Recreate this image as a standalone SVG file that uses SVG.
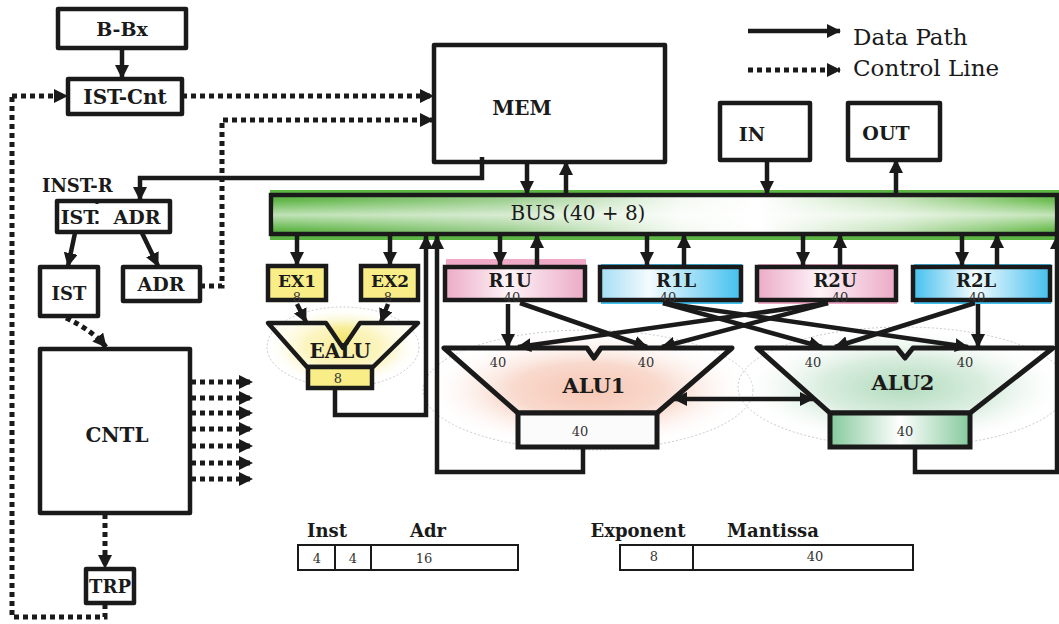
<svg xmlns="http://www.w3.org/2000/svg" width="1059" height="624" viewBox="0 0 1059 624">
<defs>
<style>
.box{fill:#fff;stroke:#1a1a1a;stroke-width:4.5;stroke-linejoin:round}
.thin{fill:#fff;stroke:#1a1a1a;stroke-width:2}
.t{font-family:"DejaVu Serif","Liberation Serif",serif;font-weight:bold;fill:#1a1a1a;text-anchor:middle}
.r{font-family:"DejaVu Serif","Liberation Serif",serif;fill:#1a1a1a}
.s{font-family:"DejaVu Serif","Liberation Serif",serif;fill:#333;font-size:13px;text-anchor:middle}
.d{fill:none;stroke:#1a1a1a;stroke-width:4.5;marker-end:url(#ah)}
.dn{fill:none;stroke:#1a1a1a;stroke-width:4.5}
.c{fill:none;stroke:#1a1a1a;stroke-width:5;stroke-dasharray:5 4;marker-end:url(#ah)}
.cn{fill:none;stroke:#1a1a1a;stroke-width:5;stroke-dasharray:5 4}
.glow{stroke:#bbb;stroke-width:0.8;stroke-dasharray:2 2}
</style>
<marker id="ah" viewBox="0 0 14 14" refX="13" refY="7" markerWidth="14" markerHeight="14" markerUnits="userSpaceOnUse" orient="auto-start-reverse"><path d="M0,0 L14,7 L0,14 z" fill="#1a1a1a"/></marker>
<linearGradient id="busg" x1="0" y1="0" x2="1" y2="0">
<stop offset="0" stop-color="#5db544"/><stop offset="0.3" stop-color="#9fd092"/><stop offset="0.52" stop-color="#f4faf2"/><stop offset="0.62" stop-color="#ffffff"/><stop offset="0.8" stop-color="#c6e4bc"/><stop offset="1" stop-color="#68bb4c"/>
</linearGradient>
<linearGradient id="busv" x1="0" y1="0" x2="0" y2="1">
<stop offset="0" stop-color="#fff" stop-opacity="0"/><stop offset="0.5" stop-color="#fff" stop-opacity="0.6"/><stop offset="1" stop-color="#fff" stop-opacity="0"/>
</linearGradient>
<linearGradient id="pink" x1="0" y1="0" x2="1" y2="0">
<stop offset="0" stop-color="#ecaac6"/><stop offset="0.45" stop-color="#fdf3f7"/><stop offset="1" stop-color="#ecaac6"/>
</linearGradient>
<linearGradient id="blue" x1="0" y1="0" x2="1" y2="0">
<stop offset="0" stop-color="#43c0ee"/><stop offset="0.45" stop-color="#f4fbfe"/><stop offset="1" stop-color="#43c0ee"/>
</linearGradient>
<linearGradient id="blueL" x1="0" y1="0" x2="1" y2="0">
<stop offset="0" stop-color="#a5ddf5"/><stop offset="0.35" stop-color="#f4fbfe"/><stop offset="1" stop-color="#43c0ee"/>
</linearGradient>
<linearGradient id="greenbox" x1="0" y1="0" x2="1" y2="0">
<stop offset="0" stop-color="#85c99c"/><stop offset="0.5" stop-color="#ffffff"/><stop offset="1" stop-color="#85c99c"/>
</linearGradient>
<radialGradient id="salmon" cx="0.5" cy="0.5" r="0.5">
<stop offset="0" stop-color="#f4b49c"/><stop offset="0.45" stop-color="#f7cdbd"/><stop offset="1" stop-color="#ffffff" stop-opacity="0"/>
</radialGradient>
<radialGradient id="greenr" cx="0.5" cy="0.5" r="0.5">
<stop offset="0" stop-color="#98d0a8"/><stop offset="0.5" stop-color="#cfe8d6"/><stop offset="1" stop-color="#ffffff" stop-opacity="0"/>
</radialGradient>
<radialGradient id="yel" cx="0.5" cy="0.5" r="0.5">
<stop offset="0" stop-color="#f3df52"/><stop offset="0.5" stop-color="#f8ee9c"/><stop offset="1" stop-color="#ffffff" stop-opacity="0"/>
</radialGradient>
</defs>
<rect width="1059" height="624" fill="#fff"/>

<g id="legend">
<line x1="748" y1="31" x2="840" y2="31" class="d"/>
<line x1="748" y1="70" x2="840" y2="70" class="c"/>
<text x="853" y="45" class="r" font-size="23">Data Path</text>
<text x="853" y="76" class="r" font-size="23">Control Line</text>
</g>

<g id="bbx"><rect x="58" y="9" width="128" height="39" class="box"/><text x="122" y="36" class="t" font-size="19">B-Bx</text></g>
<g id="istcnt"><rect x="68" y="79" width="114" height="35" class="box"/><text x="125" y="104" class="t" font-size="20">IST-Cnt</text></g>
<g id="mem"><rect x="434" y="45" width="231" height="117" class="box"/><text x="522" y="115" class="t" font-size="20">MEM</text></g>
<g id="in"><rect x="720" y="103" width="90" height="57" class="box"/><text x="752" y="141" class="t" font-size="19">IN</text></g>
<g id="out"><rect x="848" y="103" width="92" height="57" class="box"/><text x="886" y="140" class="t" font-size="19">OUT</text></g>

<g id="instr">
<text x="42" y="192" class="t" font-size="18" style="text-anchor:start">INST-R</text>
<rect x="57" y="201" width="113" height="31" class="box"/>
<line x1="97" y1="201" x2="97" y2="232" stroke="#1a1a1a" stroke-width="3" stroke-dasharray="3 7"/>
<text x="79" y="224" class="t" font-size="19">IST</text>
<text x="137" y="224" class="t" font-size="19">ADR</text>
</g>
<g id="ist"><rect x="40" y="267" width="58" height="49" class="box"/><text x="69" y="300" class="t" font-size="18">IST</text></g>
<g id="adr"><rect x="123" y="267" width="77" height="34" class="box"/><text x="161" y="291" class="t" font-size="19">ADR</text></g>
<g id="cntl"><rect x="40" y="349" width="150" height="164" class="box"/><text x="117" y="442" class="t" font-size="20">CNTL</text></g>
<g id="trp"><rect x="86" y="569" width="48" height="34" class="box"/><text x="110" y="593" class="t" font-size="18">TRP</text></g>

<g id="bus">
<rect x="270" y="190" width="789" height="50" fill="#5db544"/>
<rect x="271" y="195" width="786" height="39" fill="url(#busg)" stroke="#1a1a1a" stroke-width="4.5"/>
<rect x="273" y="200" width="782" height="30" fill="url(#busv)"/>
<text x="578" y="220" class="r" font-size="20" text-anchor="middle">BUS (40 + 8)</text>
</g>

<g id="ex1"><rect x="268" y="266" width="58" height="34" fill="#f8ed86" stroke="#1a1a1a" stroke-width="4.5"/><text x="297" y="287" class="t" font-size="17">EX1</text><text x="297" y="302" class="s" font-size="11">8</text></g>
<g id="ex2"><rect x="361" y="266" width="57" height="34" fill="#f8ed86" stroke="#1a1a1a" stroke-width="4.5"/><text x="390" y="287" class="t" font-size="17">EX2</text><text x="388" y="302" class="s" font-size="11">8</text></g>

<g id="r1u"><rect x="446" y="259" width="140" height="42" fill="#eeaac6"/><rect x="445" y="267" width="140" height="33" fill="url(#pink)" stroke="#1a1a1a" stroke-width="4.5"/><text x="510" y="287" class="t" font-size="18">R1U</text><text x="512" y="302" class="s" font-size="12">40</text></g>
<g id="r1l"><rect x="601" y="264" width="141" height="40" fill="#43c0ee"/><rect x="600" y="267" width="141" height="33" fill="url(#blueL)" stroke="#1a1a1a" stroke-width="4.5"/><text x="676" y="287" class="t" font-size="18">R1L</text><text x="668" y="302" class="s" font-size="12">40</text></g>
<g id="r2u"><rect x="758" y="264" width="139" height="40" fill="#eeaac6"/><rect x="757" y="267" width="139" height="33" fill="url(#pink)" stroke="#1a1a1a" stroke-width="4.5"/><text x="835" y="287" class="t" font-size="18">R2U</text><text x="840" y="302" class="s" font-size="12">40</text></g>
<g id="r2l"><rect x="914" y="264" width="137" height="40" fill="#43c0ee"/><rect x="913" y="267" width="137" height="33" fill="url(#blue)" stroke="#1a1a1a" stroke-width="4.5"/><text x="976" y="287" class="t" font-size="18">R2L</text><text x="977" y="302" class="s" font-size="12">40</text></g>

<g id="ealu">
<ellipse cx="343" cy="347" rx="76" ry="40" fill="url(#yel)" class="glow"/>
<path d="M268,323 L326,323 L343,348 L360,323 L418,323 L373,367 L307,367 z" fill="#fffbe6" fill-opacity="0.5" stroke="#1a1a1a" stroke-width="4.5" stroke-linejoin="round"/>
<text x="340" y="358" class="t" font-size="20">EALU</text>
<rect x="308" y="367" width="64" height="21" fill="#f8ed86" stroke="#1a1a1a" stroke-width="4.5"/>
<text x="338" y="383" class="s" font-size="14">8</text>
</g>

<g id="alu1">
<ellipse cx="588" cy="390" rx="165" ry="60" fill="url(#salmon)" class="glow"/>
<path d="M444,348 L587,348 L594,358 L601,348 L732,348 L657,413 L518,413 z" fill="#ffffff" fill-opacity="0.25" stroke="#1a1a1a" stroke-width="5" stroke-linejoin="round"/>
<text x="594" y="393" class="t" font-size="21">ALU1</text>
<text x="498" y="367" class="s" font-size="14">40</text>
<text x="646" y="367" class="s" font-size="14">40</text>
<rect x="518" y="413" width="139" height="34" fill="#fbfbfb" stroke="#1a1a1a" stroke-width="5"/>
<text x="580" y="436" class="s" font-size="14">40</text>
</g>

<g id="alu2">
<ellipse cx="903" cy="387" rx="165" ry="60" fill="url(#greenr)" class="glow"/>
<path d="M757,348 L897,348 L905,358 L913,348 L1053,348 L970,413 L830,413 z" fill="#ffffff" fill-opacity="0.25" stroke="#1a1a1a" stroke-width="5" stroke-linejoin="round"/>
<text x="903" y="390" class="t" font-size="21">ALU2</text>
<text x="813" y="367" class="s" font-size="14">40</text>
<text x="965" y="367" class="s" font-size="14">40</text>
<rect x="830" y="413" width="140" height="34" fill="url(#greenbox)" stroke="#1a1a1a" stroke-width="5"/>
<text x="905" y="436" class="s" font-size="14">40</text>
</g>

<g id="fmt-inst">
<text x="327" y="537" class="t" font-size="18">Inst</text>
<text x="428" y="537" class="t" font-size="18">Adr</text>
<rect x="298" y="545" width="220" height="25" class="thin"/>
<line x1="335" y1="545" x2="335" y2="570" stroke="#1a1a1a" stroke-width="2"/>
<line x1="371" y1="545" x2="371" y2="570" stroke="#1a1a1a" stroke-width="2"/>
<text x="317" y="563" class="s">4</text><text x="353" y="563" class="s">4</text><text x="424" y="563" class="s">16</text>
</g>
<g id="fmt-float">
<text x="638" y="537" class="t" font-size="18">Exponent</text>
<text x="773" y="537" class="t" font-size="18">Mantissa</text>
<rect x="620" y="545" width="293" height="25" class="thin"/>
<line x1="693" y1="545" x2="693" y2="570" stroke="#1a1a1a" stroke-width="2"/>
<text x="654" y="561" class="s">8</text><text x="815" y="561" class="s">40</text>
</g>

<g id="connectors">
<line x1="122" y1="48" x2="122" y2="78" class="d"/>
<path d="M12,96 H67" class="c"/>
<path d="M182,96 H433" class="c"/>
<path d="M200,286 H222 V120 H433" class="c"/>
<path d="M105,604 V617 H12 V96" class="cn"/>
<path d="M66,318 Q92,330 106,347" class="c"/>
<line x1="105" y1="514" x2="105" y2="568" class="c"/>
<line x1="191" y1="382" x2="252" y2="382" class="c"/>
<line x1="191" y1="398" x2="252" y2="398" class="c"/>
<line x1="191" y1="413" x2="252" y2="413" class="c"/>
<line x1="191" y1="429" x2="252" y2="429" class="c"/>
<line x1="191" y1="446" x2="252" y2="446" class="c"/>
<line x1="191" y1="463" x2="252" y2="463" class="c"/>
<line x1="191" y1="479" x2="252" y2="479" class="c"/>
<path d="M482,157 V178 H140 V200" class="d"/>
<line x1="75" y1="233" x2="68" y2="266" class="d"/>
<line x1="142" y1="233" x2="158" y2="266" class="d"/>
<line x1="527" y1="162" x2="527" y2="194" class="d"/>
<line x1="566" y1="194" x2="566" y2="162" class="d"/>
<line x1="767" y1="160" x2="767" y2="194" class="d"/>
<line x1="896" y1="194" x2="896" y2="160" class="d"/>
<line x1="297" y1="234" x2="297" y2="265" class="d"/>
<line x1="390" y1="234" x2="390" y2="265" class="d"/>
<line x1="500" y1="234" x2="500" y2="265" class="d"/>
<line x1="537" y1="265" x2="537" y2="235" class="d"/>
<line x1="647" y1="234" x2="647" y2="265" class="d"/>
<line x1="684" y1="265" x2="684" y2="235" class="d"/>
<line x1="803" y1="234" x2="803" y2="265" class="d"/>
<line x1="840" y1="265" x2="840" y2="235" class="d"/>
<line x1="962" y1="234" x2="962" y2="265" class="d"/>
<line x1="997" y1="265" x2="997" y2="235" class="d"/>
<line x1="297" y1="304" x2="306" y2="322" class="d"/>
<line x1="388" y1="304" x2="381" y2="322" class="d"/>
<path d="M335,388 V415 H426 V236" class="d"/>
<path d="M583,447 V472 H437 V236" class="d"/>
<path d="M915,447 V472 H1057 V236" class="d"/>
<line x1="508" y1="304" x2="508" y2="347" class="d"/>
<line x1="520" y1="303" x2="647" y2="347" class="d"/>
<line x1="828" y1="303" x2="518" y2="347" class="d"/>
<line x1="828" y1="303" x2="662" y2="347" class="d"/>
<line x1="663" y1="303" x2="822" y2="347" class="d"/>
<line x1="663" y1="303" x2="968" y2="347" class="d"/>
<line x1="975" y1="303" x2="835" y2="347" class="d"/>
<line x1="978" y1="304" x2="978" y2="347" class="d"/>
<line x1="674" y1="399" x2="813" y2="399" class="d" style="marker-start:url(#ah)"/>
</g>
</svg>
